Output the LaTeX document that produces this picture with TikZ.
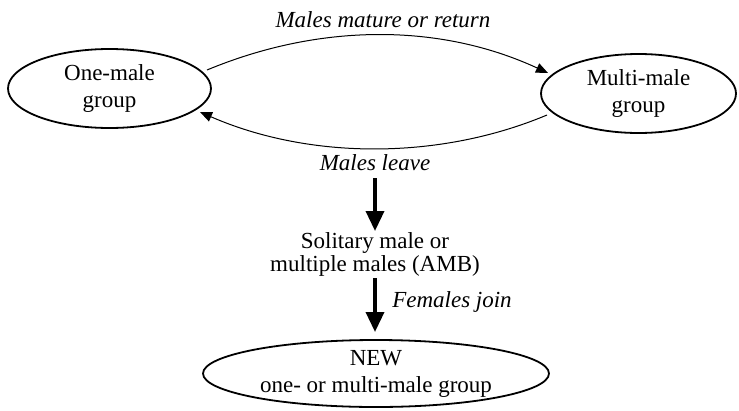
\documentclass[tikz,border=0pt]{standalone}
\usepackage{fontspec}
\setmainfont{Liberation Serif}
\usetikzlibrary{shapes.geometric,arrows.meta}
\begin{document}
\begin{tikzpicture}[x=1pt,y=-1pt,
  grp/.style={ellipse,draw,line width=1.8pt,inner sep=0pt,align=center,font=\fontsize{23}{27}\selectfont},
  lbl/.style={font=\fontsize{23}{27}\selectfont\itshape},
  txt/.style={align=center,font=\fontsize{23}{23}\selectfont},
  thin/.style={line width=1pt,-{Triangle[length=12pt,width=10pt]}},
  thick/.style={line width=3.5pt,-{Triangle[length=20pt,width=18pt]}}]
\useasboundingbox (0,0) rectangle (739,410);
\node[grp,minimum width=203pt,minimum height=79pt] (one) at (109.5,88.5) {One-male\\group};
\node[grp,minimum width=195pt,minimum height=79pt] (multi) at (638.5,93.5) {Multi-male\\group};
\node[grp,minimum width=346pt,minimum height=67pt] (new) at (376,373.5) {NEW\\one- or multi-male group};
\node[txt] (sol) at (375,254) {Solitary male or\\multiple males (AMB)};
\node[lbl] (mature) at (383,20) {Males mature or return};
\node[lbl] (leave) at (375,163) {Males leave};
\node[lbl] (join) at (452,302) {Females join};
\coordinate (a1) at (207,70);
\coordinate (a2) at (548,73);
\coordinate (b1) at (547,115);
\coordinate (b2) at (200,112);
\draw[thin] (a1) .. controls (320,23) and (440,23) .. (a2);
\draw[thin] (b1) .. controls (440,160) and (310,160) .. (b2);
\coordinate (c1) at (375,178);
\coordinate (c2) at (375,231);
\coordinate (d1) at (375,278);
\coordinate (d2) at (375,332);
\draw[thick] (c1) -- (c2);
\draw[thick] (d1) -- (d2);
\end{tikzpicture}
\end{document}
